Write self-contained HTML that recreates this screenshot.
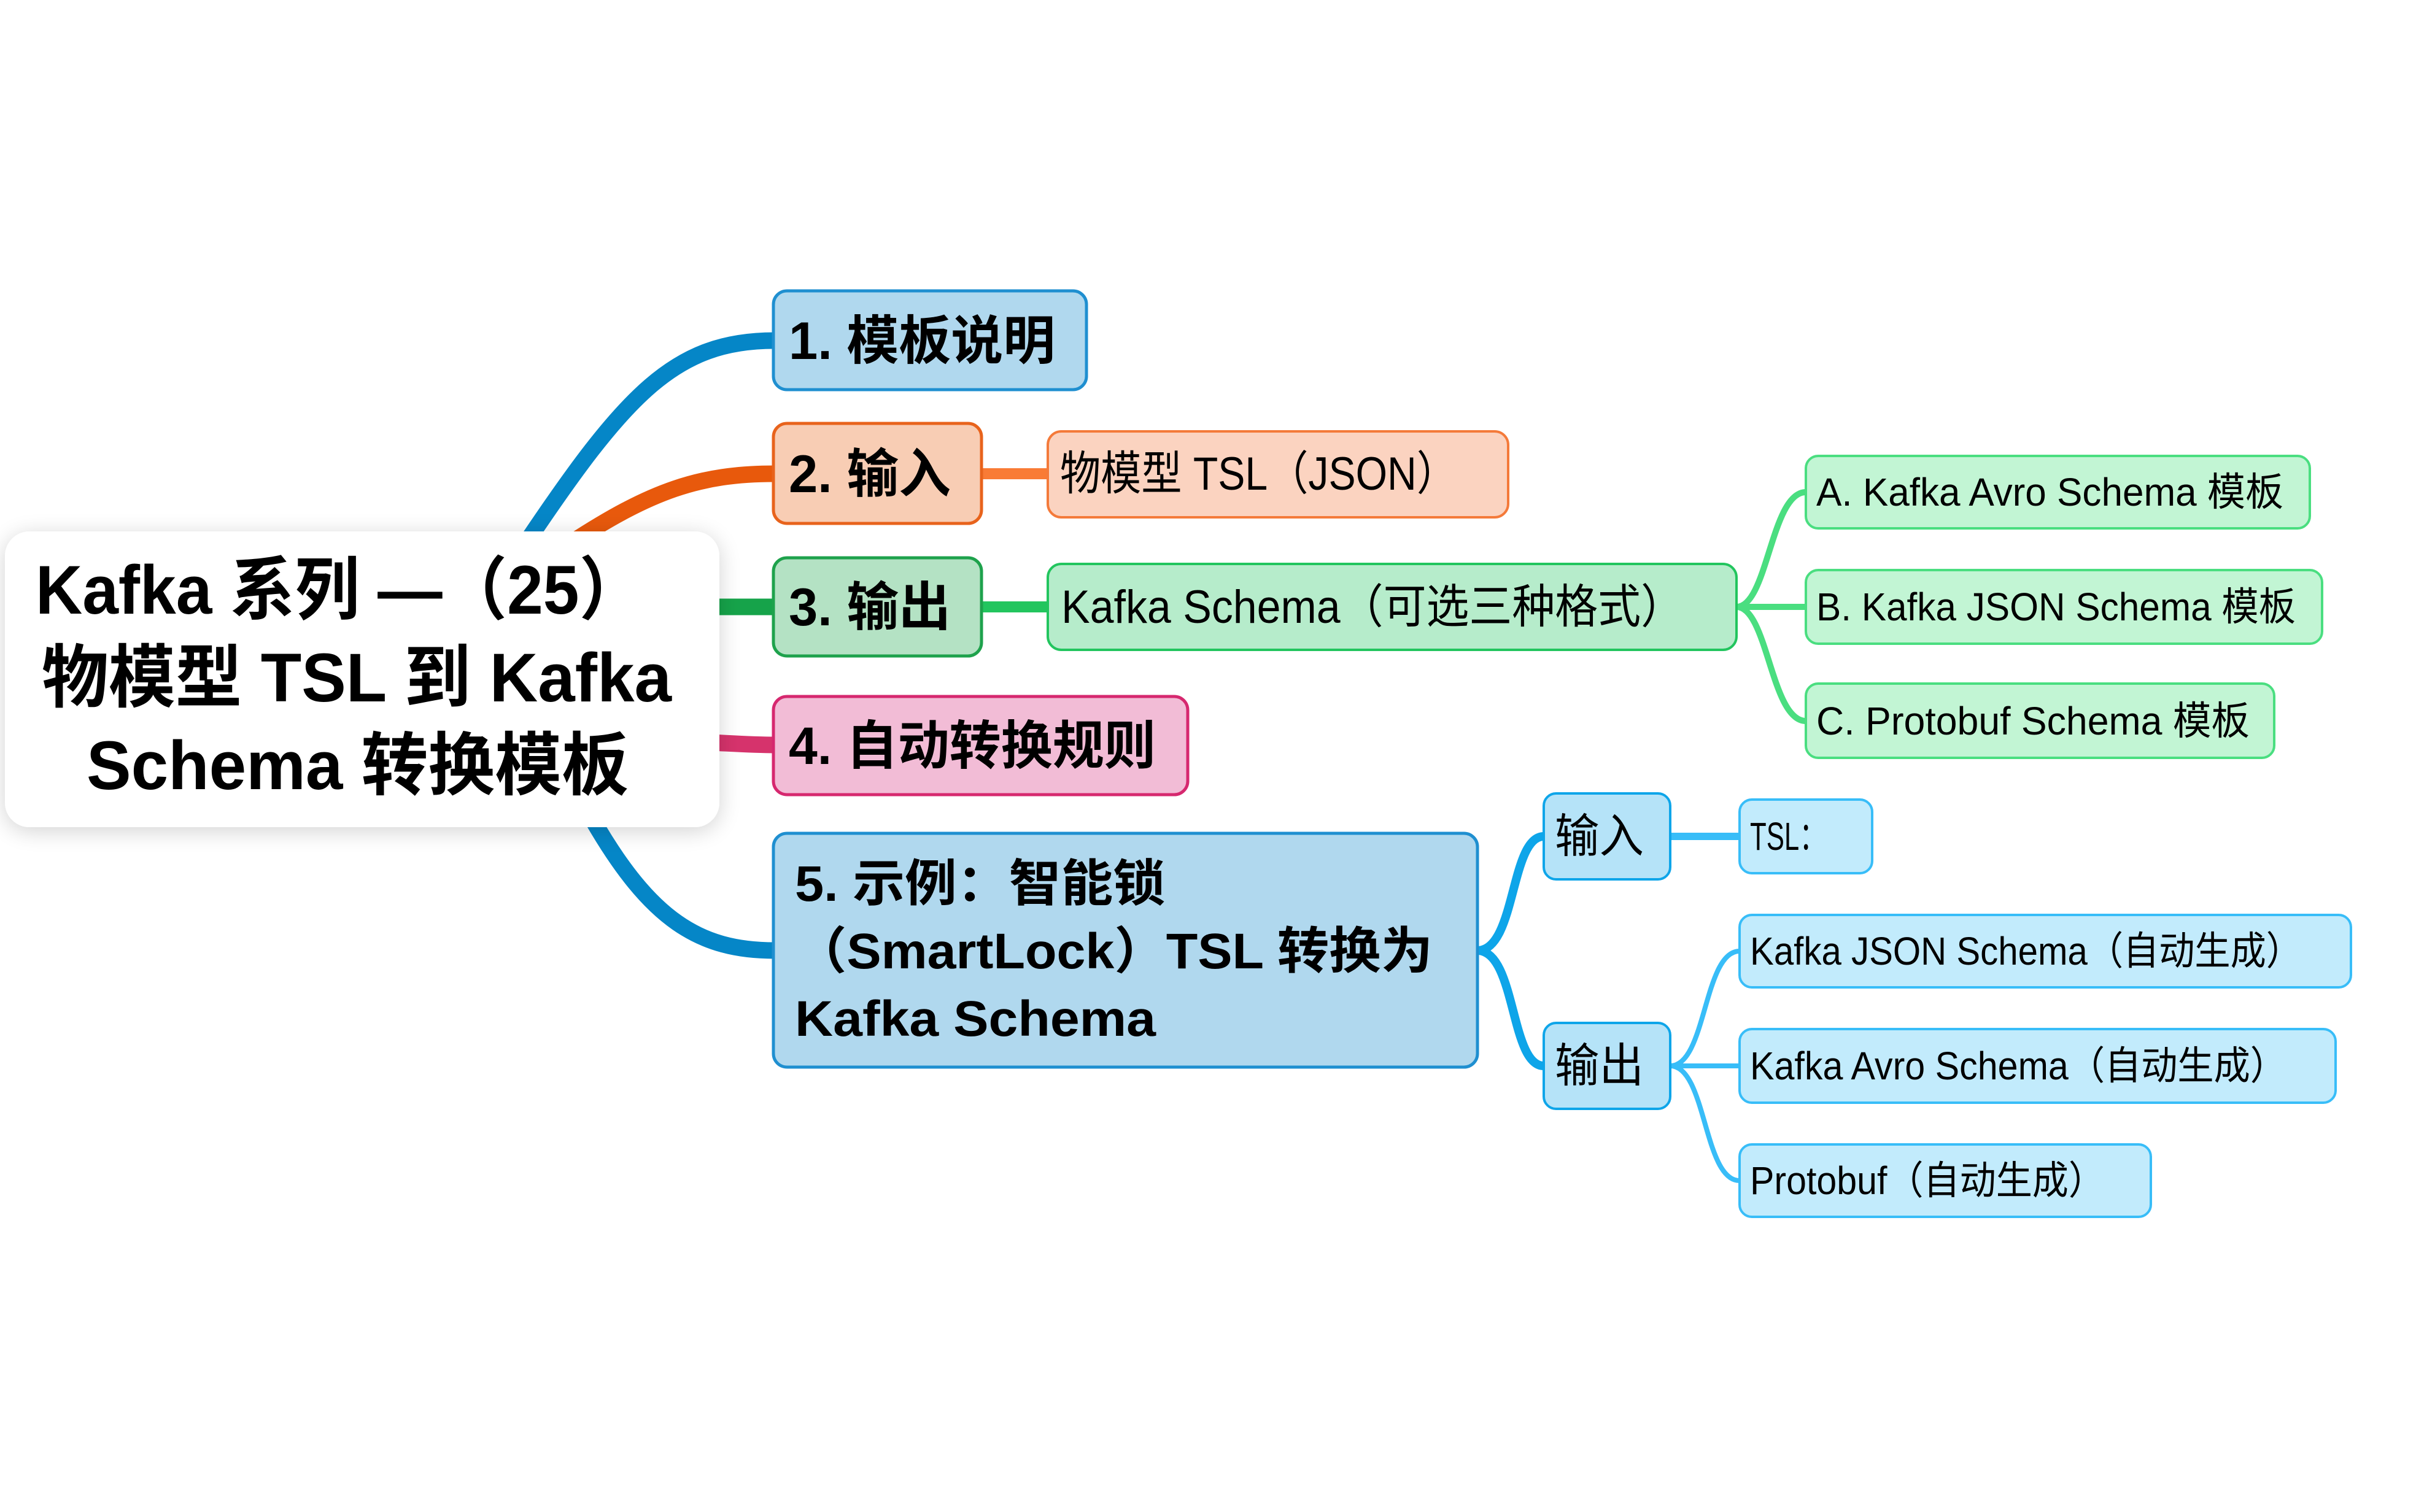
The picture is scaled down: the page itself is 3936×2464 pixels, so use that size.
<!DOCTYPE html>
<html><head><meta charset="utf-8"><style>
html,body{margin:0;padding:0;background:#fff;width:3936px;height:2464px;overflow:hidden}
svg{display:block}
text{font-family:"Liberation Sans","Noto Sans CJK SC",sans-serif;fill:#000}
.b{font-weight:bold}
</style></head><body>
<svg width="3936" height="2464" viewBox="0 0 3936 2464" xmlns="http://www.w3.org/2000/svg">
<defs>
<filter id="sh" x="-10%" y="-20%" width="120%" height="140%"><feGaussianBlur in="SourceAlpha" stdDeviation="18"/><feOffset dx="0" dy="6"/><feComponentTransfer><feFuncA type="linear" slope="0.18"/></feComponentTransfer><feMerge><feMergeNode/><feMergeNode in="SourceGraphic"/></feMerge></filter>
</defs>
<g fill="none" stroke-linecap="butt">
<path d="M850 895 C1020 640,1100 555,1262 555" stroke="#0586c7" stroke-width="27"/>
<path d="M930 885 C1060 800,1140 772,1262 772" stroke="#e8590c" stroke-width="27"/>
<path d="M1160 989 L1262 989" stroke="#16a34a" stroke-width="27"/>
<path d="M1160 1210 C1200 1212,1230 1214,1262 1214" stroke="#d6336c" stroke-width="27"/>
<path d="M965 1335 C1060 1500,1140 1549,1262 1549" stroke="#0586c7" stroke-width="27"/>
<path d="M1599 772 L1707 772" stroke="#f97b35" stroke-width="18"/>
<path d="M1599 989 L1707 989" stroke="#22c55e" stroke-width="18"/>
<path d="M2829 989 C2880 989,2885 802,2942 802" stroke="#4ade80" stroke-width="10"/>
<path d="M2829 989 L2942 989" stroke="#4ade80" stroke-width="10"/>
<path d="M2829 989 C2880 989,2885 1175,2942 1175" stroke="#4ade80" stroke-width="10"/>
<path d="M2407 1549 C2470 1549,2460 1363,2515 1363" stroke="#0ea5e9" stroke-width="14"/>
<path d="M2407 1549 C2470 1549,2460 1737,2515 1737" stroke="#0ea5e9" stroke-width="14"/>
<path d="M2721 1363 L2834 1363" stroke="#38bdf8" stroke-width="12"/>
<path d="M2721 1737 C2780 1737,2775 1550,2834 1550" stroke="#38bdf8" stroke-width="8"/>
<path d="M2721 1737 L2834 1737" stroke="#38bdf8" stroke-width="8"/>
<path d="M2721 1737 C2780 1737,2775 1924,2834 1924" stroke="#38bdf8" stroke-width="8"/>
</g>
<rect x="8" y="866" width="1164" height="482" rx="40" fill="#fff" filter="url(#sh)"/>
<text class="b" font-size="112" x="58" y="1000" textLength="991" lengthAdjust="spacingAndGlyphs">Kafka 系列 —（25）</text>
<text class="b" font-size="112" x="68" y="1143" textLength="1026" lengthAdjust="spacingAndGlyphs">物模型 TSL 到 Kafka</text>
<text class="b" font-size="112" x="141" y="1286" textLength="883" lengthAdjust="spacingAndGlyphs">Schema 转换模板</text>

<rect x="1260" y="474" width="510" height="161" rx="22" fill="#b0d8ee" stroke="#1f8fd0" stroke-width="5"/>
<text class="b" font-size="86" x="1285" y="585" textLength="434" lengthAdjust="spacingAndGlyphs">1. 模板说明</text>
<rect x="1260" y="690" width="339" height="163" rx="22" fill="#f8cdb4" stroke="#e8631c" stroke-width="5"/>
<text class="b" font-size="86" x="1285" y="802" textLength="264" lengthAdjust="spacingAndGlyphs">2. 输入</text>
<rect x="1707" y="703" width="750" height="140" rx="22" fill="#fbd3c0" stroke="#f47a3a" stroke-width="4"/>
<text font-size="76" x="1727" y="798" textLength="647" lengthAdjust="spacingAndGlyphs">物模型 TSL（JSON）</text>
<rect x="1260" y="909" width="339" height="160" rx="22" fill="#b4e2c4" stroke="#1ea24c" stroke-width="5"/>
<text class="b" font-size="86" x="1285" y="1019" textLength="264" lengthAdjust="spacingAndGlyphs">3. 输出</text>
<rect x="1707" y="919" width="1122" height="140" rx="22" fill="#b6eccb" stroke="#22c55e" stroke-width="4"/>
<text font-size="76" x="1729" y="1015" textLength="1014" lengthAdjust="spacingAndGlyphs">Kafka Schema（可选三种格式）</text>
<rect x="2942" y="743" width="821" height="118" rx="20" fill="#c2f5d4" stroke="#4ade80" stroke-width="4"/>
<text font-size="64" x="2959" y="824" textLength="761" lengthAdjust="spacingAndGlyphs">A. Kafka Avro Schema 模板</text>
<rect x="2942" y="929" width="841" height="120" rx="20" fill="#c2f5d4" stroke="#4ade80" stroke-width="4"/>
<text font-size="64" x="2959" y="1011" textLength="781" lengthAdjust="spacingAndGlyphs">B. Kafka JSON Schema 模板</text>
<rect x="2942" y="1114" width="763" height="121" rx="20" fill="#c2f5d4" stroke="#4ade80" stroke-width="4"/>
<text font-size="64" x="2959" y="1197" textLength="706" lengthAdjust="spacingAndGlyphs">C. Protobuf Schema 模板</text>
<rect x="1260" y="1135" width="675" height="160" rx="22" fill="#f2bcd6" stroke="#d6286f" stroke-width="5"/>
<text class="b" font-size="86" x="1285" y="1245" textLength="598" lengthAdjust="spacingAndGlyphs">4. 自动转换规则</text>
<rect x="1260" y="1358" width="1147" height="381" rx="22" fill="#b0d8ee" stroke="#1f8fd0" stroke-width="5"/>
<text class="b" font-size="82" x="1295" y="1468" textLength="603" lengthAdjust="spacingAndGlyphs">5. 示例：智能锁</text>
<text class="b" font-size="82" x="1295" y="1578" textLength="1039" lengthAdjust="spacingAndGlyphs">（SmartLock）TSL 转换为</text>
<text class="b" font-size="82" x="1295" y="1688" textLength="588" lengthAdjust="spacingAndGlyphs">Kafka Schema</text>
<rect x="2515" y="1293" width="206" height="140" rx="20" fill="#b5e3f8" stroke="#0ea5e9" stroke-width="4"/>
<text font-size="76" x="2533" y="1389" textLength="145" lengthAdjust="spacingAndGlyphs">输入</text>
<rect x="2834" y="1303" width="216" height="120" rx="20" fill="#c2ebfc" stroke="#38bdf8" stroke-width="4"/>
<text font-size="64" x="2851" y="1385" textLength="124" lengthAdjust="spacingAndGlyphs">TSL：</text>
<rect x="2515" y="1667" width="206" height="140" rx="20" fill="#b5e3f8" stroke="#0ea5e9" stroke-width="4"/>
<text font-size="76" x="2533" y="1763" textLength="145" lengthAdjust="spacingAndGlyphs">输出</text>
<rect x="2834" y="1491" width="996" height="118" rx="20" fill="#c2ebfc" stroke="#38bdf8" stroke-width="4"/>
<text font-size="64" x="2851" y="1572" textLength="899" lengthAdjust="spacingAndGlyphs">Kafka JSON Schema（自动生成）</text>
<rect x="2834" y="1677" width="971" height="120" rx="20" fill="#c2ebfc" stroke="#38bdf8" stroke-width="4"/>
<text font-size="64" x="2851" y="1759" textLength="874" lengthAdjust="spacingAndGlyphs">Kafka Avro Schema（自动生成）</text>
<rect x="2834" y="1865" width="670" height="118" rx="20" fill="#c2ebfc" stroke="#38bdf8" stroke-width="4"/>
<text font-size="64" x="2851" y="1946" textLength="578" lengthAdjust="spacingAndGlyphs">Protobuf（自动生成）</text>
</svg>
</body></html>
